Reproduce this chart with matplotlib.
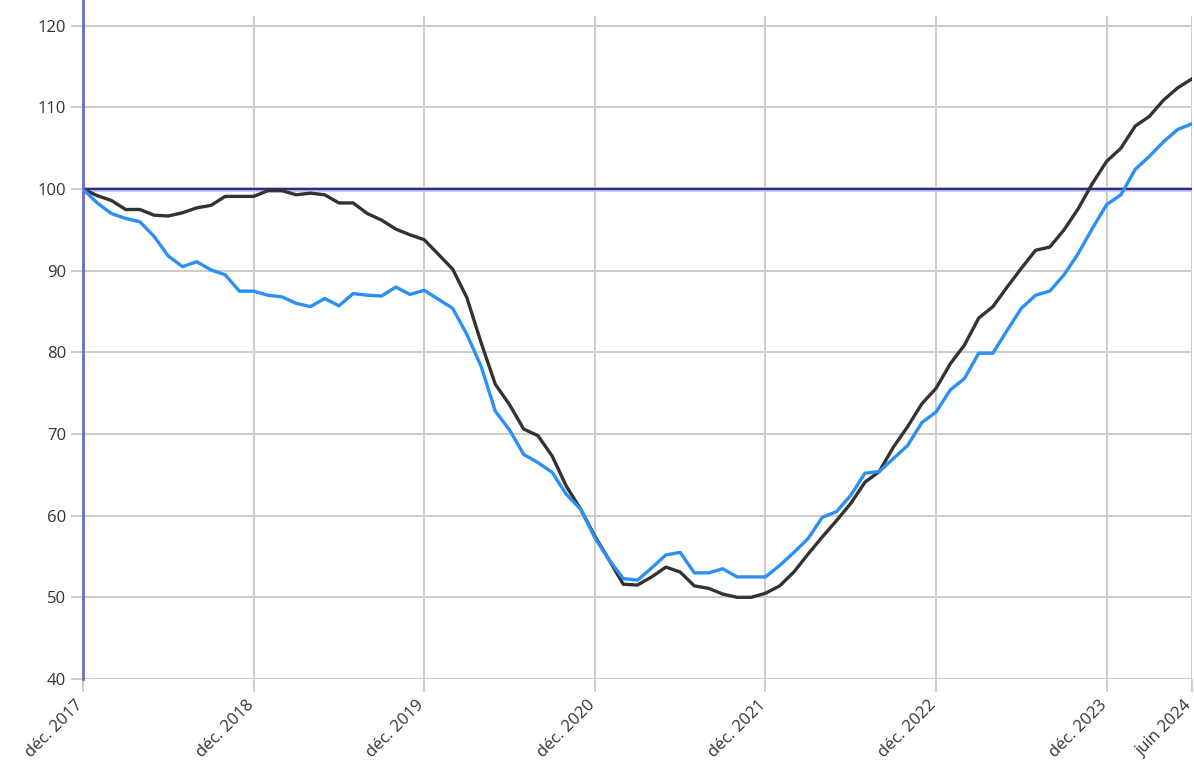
import numpy as np
import matplotlib
matplotlib.use("Agg")
import matplotlib.pyplot as plt
import matplotlib.transforms as mtransforms

plt.rcParams['font.family'] = ['Open Sans', 'DejaVu Sans']

# monthly index, déc. 2017 = 0 ... juin 2024 = 78
serie_noire = [100, 99.2, 98.6, 97.5, 97.5, 96.8, 96.7, 97.1, 97.7, 98.0,
               99.1, 99.1, 99.1, 99.8, 99.8, 99.3, 99.5, 99.3, 98.3, 98.3,
               97.0, 96.2, 95.1, 94.4, 93.8, 92.0, 90.2, 86.7, 81.2, 76.1,
               73.6, 70.6, 69.8, 67.3, 63.6, 60.8, 57.5, 54.6, 51.6, 51.5,
               52.5, 53.7, 53.1, 51.4, 51.1, 50.4, 50.0, 50.0, 50.5, 51.4,
               53.1, 55.3, 57.4, 59.4, 61.5, 64.1, 65.4, 68.4, 70.9, 73.7,
               75.6, 78.6, 80.9, 84.2, 85.6, 88.0, 90.3, 92.5, 92.9, 95.0,
               97.6, 100.7, 103.4, 105.0, 107.7, 108.9, 110.9, 112.4, 113.5]

serie_bleue = [100, 98.3, 97.0, 96.4, 96.0, 94.2, 91.8, 90.5, 91.1, 90.1,
               89.5, 87.5, 87.5, 87.0, 86.8, 86.0, 85.6, 86.6, 85.7, 87.2,
               87.0, 86.9, 88.0, 87.1, 87.6, 86.5, 85.4, 82.2, 78.3, 72.8,
               70.5, 67.5, 66.5, 65.3, 62.6, 60.8, 57.3, 54.6, 52.3, 52.1,
               53.6, 55.2, 55.5, 53.0, 53.0, 53.5, 52.5, 52.5, 52.5, 53.9,
               55.5, 57.2, 59.8, 60.5, 62.5, 65.2, 65.4, 67.0, 68.6, 71.4,
               72.7, 75.4, 76.8, 79.9, 79.9, 82.7, 85.4, 87.0, 87.5, 89.5,
               92.1, 95.2, 98.1, 99.3, 102.4, 104.0, 105.8, 107.3, 108.0]

tick_mois = [0, 12, 24, 36, 48, 60, 72, 78]
tick_labels = ['déc. 2017', 'déc. 2018', 'déc. 2019', 'déc. 2020',
               'déc. 2021', 'déc. 2022', 'déc. 2023', 'juin 2024']
y_ticks = [40, 50, 60, 70, 80, 90, 100, 110, 120]
reference = 100

mois = np.arange(len(serie_noire))

fig = plt.figure(figsize=(11.94, 7.75), dpi=100)
ax = fig.add_axes([0.0695, 0.1239, 0.9288, 0.8555])

ax.grid(True, color='#cccccc', linewidth=1.4)
ax.set_axisbelow(True)

ax.axhline(reference, color='#c8c8e6', linewidth=3.5, zorder=2)
ax.axhline(reference, color='#2b2b8c', linewidth=1.6, zorder=2)

ax.plot(mois, serie_noire, color='#333333', linewidth=2.4, zorder=3)
ax.plot(mois, serie_bleue, color='#2b8ff5', linewidth=2.4, zorder=3)

ax.set_xlim(0, 78)
ax.set_ylim(40, 121.2)
ax.set_xticks(tick_mois)
ax.set_xticklabels(tick_labels, rotation=45, ha='right', va='top',
                   rotation_mode='anchor')
ax.set_yticks(y_ticks)

ax.tick_params(axis='both', colors='#cccccc', labelcolor='#333333',
               labelsize=12, length=9, width=1.4)
ax.tick_params(axis='x', pad=4)
ax.tick_params(axis='y', pad=3)

decale = mtransforms.ScaledTranslation(-8 / 100, 0, fig.dpi_scale_trans)
for lab in ax.get_xticklabels():
    lab.set_transform(lab.get_transform() + decale)

for s in ['top', 'right', 'bottom']:
    ax.spines[s].set_visible(False)
ax.spines['left'].set_color('#6b6bc0')
ax.spines['left'].set_linewidth(2)
ax.spines['left'].set_bounds(40, 123.6)

fig.savefig('out.png', dpi=100)
